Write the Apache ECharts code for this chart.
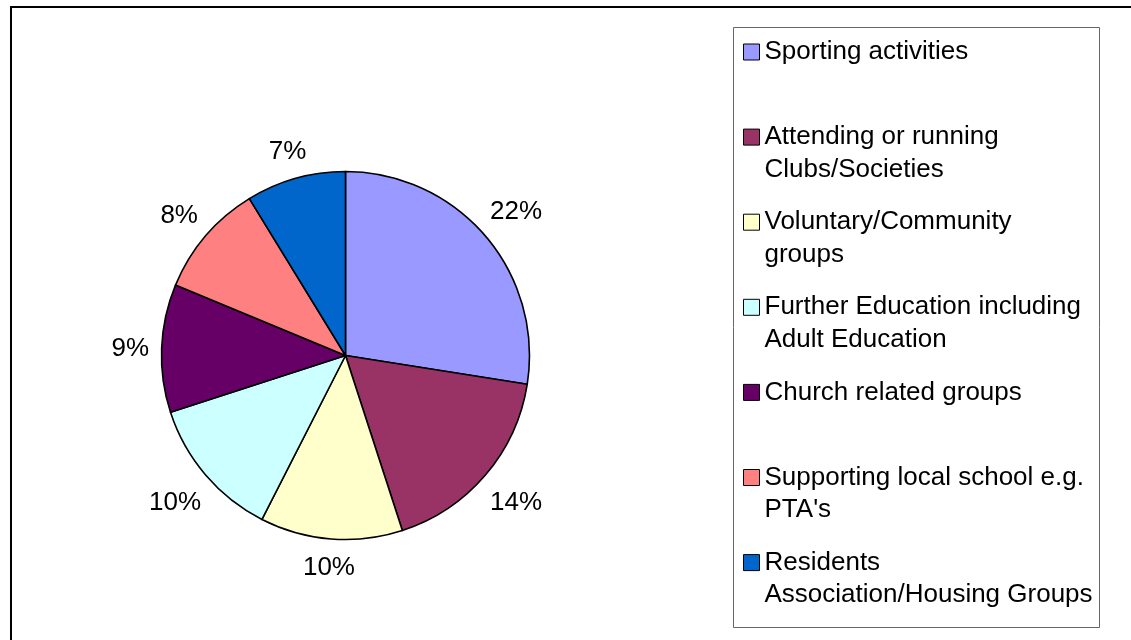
<!DOCTYPE html>
<html><head><meta charset="utf-8">
<script src="https://cdn.jsdelivr.net/npm/echarts@6/dist/echarts.min.js"></script>
<style>html,body{margin:0;padding:0;background:#fff}#c{width:1131px;height:640px}</style>
</head><body><div id="c"></div>
<script>
const categories = [
  'Sporting activities',
  'Attending or running\nClubs/Societies',
  'Voluntary/Community\ngroups',
  'Further Education including\nAdult Education',
  'Church related groups',
  'Supporting local school e.g.\nPTA\'s',
  'Residents\nAssociation/Housing Groups'
];
const values = [22, 14, 10, 10, 9, 8, 7];
const colors = ['#9999FF', '#993366', '#FFFFCC', '#CCFFFF', '#660066', '#FF8080', '#0066CC'];

const FONT = "'Liberation Sans', Arial, sans-serif";
const LH = 32.7;
const CENTER = [345.5, 355.5];
const LABEL_GAP_R = 196;

const legends = categories.map(function (name, i) {
  const n = name.split('\n').length;
  const c = 52 + 85.1 * i;
  return {
    data: [name], orient: 'vertical', left: 743, top: c - (n - 0.5) * LH, padding: 0,
    itemWidth: 16, itemHeight: 16, icon: 'rect', selectedMode: false,
    itemStyle: { borderColor: '#000', borderWidth: 1 },
    formatter: function (nm) { return n > 1 ? '\n'.repeat(n - 1) + nm : nm; },
    textStyle: { fontFamily: FONT, fontSize: 26, color: '#000', lineHeight: LH }
  };
});

const pieData = categories.map(function (n, i) {
  return { name: n, value: values[i], itemStyle: { color: colors[i] } };
});
const labelData = categories.map(function (n, i) {
  return { name: n, value: values[i] };
});

const chart = echarts.init(document.getElementById('c'), null, { renderer: 'canvas' });
chart.setOption({
  animation: false,
  backgroundColor: '#fff',
  legend: legends,
  graphic: [
    { type: 'rect', silent: true, z: 0, shape: { x: 11, y: 7, width: 1200, height: 700 }, style: { fill: 'none', stroke: '#000', lineWidth: 2 } },
    { type: 'rect', silent: true, z: 0, shape: { x: 733.5, y: 27.5, width: 366, height: 600 }, style: { fill: 'none', stroke: '#666', lineWidth: 1 } }
  ],
  series: [
    {
      type: 'pie', center: CENTER, radius: 184, startAngle: 90, clockwise: true,
      avoidLabelOverlap: false, label: { show: false }, labelLine: { show: false },
      itemStyle: { borderColor: '#000', borderWidth: 1.6 },
      emphasis: { disabled: true },
      data: pieData
    },
    {
      type: 'pie', center: CENTER, radius: [192, 238], startAngle: 90, clockwise: true, silent: true,
      avoidLabelOverlap: false,
      itemStyle: { color: 'rgba(0,0,0,0)', borderWidth: 0 },
      label: { show: true, position: 'inside', formatter: '{c}%', fontFamily: FONT, fontSize: 26, color: '#000' },
      labelLine: { show: false },
      labelLayout: function (params) {
        const r = params.labelRect;
        const lx = r.x + r.width / 2, ly = r.y + r.height / 2;
        const dx = lx - CENTER[0], dy = ly - CENTER[1];
        const d = Math.sqrt(dx * dx + dy * dy) || 1;
        const ux = dx / d, uy = dy / d;
        const dist = LABEL_GAP_R + Math.abs(ux) * r.width / 2 + Math.abs(uy) * r.height / 2;
        return { x: CENTER[0] + ux * dist, y: CENTER[1] + uy * dist + 2, align: 'center', verticalAlign: 'middle' };
      },
      emphasis: { disabled: true },
      data: labelData
    }
  ]
});
</script></body></html>
